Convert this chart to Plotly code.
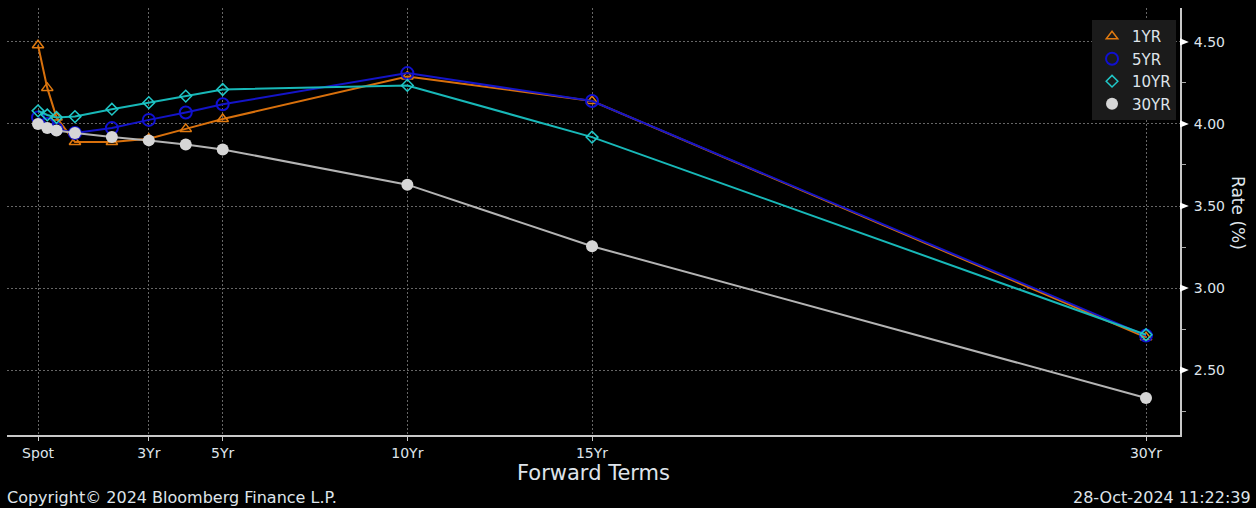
import plotly.graph_objects as go

# Forward term positions (years) and labels
terms = [0, 0.25, 0.5, 1, 2, 3, 4, 5, 10, 15, 30]
tick_vals = [0, 3, 5, 10, 15, 30]
tick_text = ["Spot", "3Yr", "5Yr", "10Yr", "15Yr", "30Yr"]

# Series (rates, %)
rate_1yr = [4.48, 4.22, 4.04, 3.89, 3.89, 3.91, 3.97, 4.03, 4.29, 4.14, 2.70]
rate_5yr = [4.04, 4.00, 3.97, 3.945, 3.975, 4.025, 4.07, 4.12, 4.31, 4.14, 2.71]
rate_10yr = [4.08, 4.055, 4.04, 4.045, 4.09, 4.13, 4.17, 4.21, 4.235, 3.92, 2.715]
rate_30yr = [4.00, 3.975, 3.96, 3.945, 3.92, 3.90, 3.875, 3.845, 3.63, 3.255, 2.33]

series_names = ["1YR", "5YR", "10YR", "30YR"]
y_ticks = [2.5, 3.0, 3.5, 4.0, 4.5]

FONT = "DejaVu Sans"
TXT = "#dfe4ea"

styles = {
    "1YR": dict(line="#d8700c", marker=dict(symbol="triangle-up-open", size=10, color="#e07a10", line=dict(width=1.5))),
    "5YR": dict(line="#1414c8", marker=dict(symbol="circle-open", size=12, color="#1010d0", line=dict(width=2))),
    "10YR": dict(line="#18b8b8", marker=dict(symbol="diamond-open", size=9, color="#20c8c8", line=dict(width=1.5))),
    "30YR": dict(line="#b4b4b4", marker=dict(symbol="circle", size=12, color="#d6d6d6")),
}
data = {"1YR": rate_1yr, "5YR": rate_5yr, "10YR": rate_10yr, "30YR": rate_30yr}

fig = go.Figure()
for name in series_names:
    st = styles[name]
    fig.add_trace(go.Scatter(
        x=terms, y=data[name], mode="lines+markers", name=name,
        line=dict(color=st["line"], width=2), marker=st["marker"],
        showlegend=False, cliponaxis=False,
    ))
# legend-only marker entries
for name in series_names:
    st = styles[name]
    fig.add_trace(go.Scatter(
        x=[None], y=[None], mode="markers", name=name,
        marker=st["marker"], showlegend=True,
    ))

# Triangle tick markers on right axis
shapes = []
d = 0.022
for v in y_ticks:
    shapes.append(dict(
        type="path", xref="paper", yref="y",
        path=f"M 1.0,{v - d} L 1.0075,{v} L 1.0,{v + d} Z",
        fillcolor="#ffffff", line=dict(color="#ffffff", width=0),
    ))

fig.update_layout(
    width=1256, height=508,
    paper_bgcolor="#000000", plot_bgcolor="#000000",
    margin=dict(l=7, r=76, t=8, b=73),
    font=dict(family=FONT, size=14, color=TXT),
    showlegend=True,
    legend=dict(
        x=0.925, y=0.972, xanchor="left", yanchor="top",
        bgcolor="#1b1b1b", borderwidth=0,
        font=dict(family=FONT, size=15, color=TXT),
        itemwidth=30, tracegroupgap=0,
    ),
    shapes=shapes,
    xaxis=dict(
        range=[-0.84, 30.92], tickvals=tick_vals, ticktext=tick_text,
        showgrid=True, gridcolor="#666666", griddash="2px,2px", gridwidth=1,
        zeroline=False, showline=True, linecolor="#c8c8c8", linewidth=2,
        ticks="outside", ticklen=4, tickcolor="#c8c8c8",
        tickfont=dict(family=FONT, size=14, color=TXT),
        title=dict(text="Forward Terms", font=dict(family=FONT, size=21, color=TXT), standoff=2),
    ),
    yaxis=dict(
        range=[2.104, 4.707], side="right", tickvals=y_ticks,
        ticktext=[f"{v:.2f}" for v in y_ticks],
        showgrid=True, gridcolor="#666666", griddash="2px,2px", gridwidth=1,
        zeroline=False, showline=True, linecolor="#c8c8c8", linewidth=2,
        ticks="outside", ticklen=9, tickcolor="rgba(0,0,0,0)",
        minor=dict(dtick=0.25, tick0=0, ticks="outside", ticklen=4, tickcolor="#aaaaaa", showgrid=False),
        tickfont=dict(family=FONT, size=14, color=TXT),
    ),
    annotations=[
        dict(text="Rate (%)", xref="paper", yref="paper", x=1.0494, y=0.52,
             xanchor="center", yanchor="middle",
             textangle=90, showarrow=False, font=dict(family=FONT, size=17, color=TXT)),
        dict(text="Copyright© 2024 Bloomberg Finance L.P.", xref="paper", yref="paper",
             x=-0.0017, y=-0.1475, xanchor="left", yanchor="middle", showarrow=False,
             font=dict(family=FONT, size=16, color=TXT)),
        dict(text="28-Oct-2024 11:22:39", xref="paper", yref="paper",
             x=1.0622, y=-0.1475, xanchor="right", yanchor="middle", showarrow=False,
             font=dict(family=FONT, size=16, color=TXT)),
    ],
)

fig.write_html(
    "out.html",
    config={"displayModeBar": False},
    post_script="document.body.style.margin='0';document.body.style.background='#000';document.body.style.overflow='hidden';",
)
